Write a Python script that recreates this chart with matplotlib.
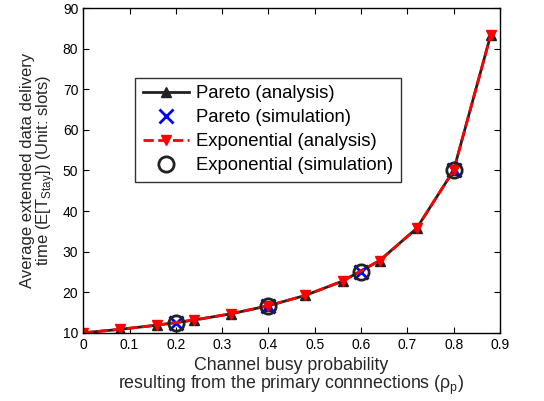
import numpy as np
import matplotlib
matplotlib.use('Agg')
import matplotlib.pyplot as plt

plt.rcParams['font.family'] = ['Liberation Sans', 'DejaVu Sans']
plt.rcParams['mathtext.fontset'] = 'custom'
plt.rcParams['mathtext.rm'] = 'Liberation Sans'

# analysis points
rho = [0, 0.08, 0.16, 0.24, 0.32, 0.40, 0.48, 0.56, 0.64, 0.72, 0.80, 0.88]
pareto_ana = [10.0, 10.87, 11.90, 13.16, 14.71, 16.67, 19.23, 22.73, 27.78, 35.71, 50.0, 83.33]
expo_ana = [10.0, 10.87, 11.90, 13.16, 14.71, 16.67, 19.23, 22.73, 27.78, 35.71, 50.0, 83.33]
# simulation points
rho_sim = [0.2, 0.4, 0.6, 0.8]
pareto_sim = [12.5, 16.6, 25.0, 50.0]
expo_sim = [12.5, 16.7, 25.1, 50.1]

fig = plt.figure(figsize=(5.44, 4.01), dpi=100)
ax = fig.add_axes([0.153, 0.170, 0.766, 0.810])

ax.plot(rho, pareto_ana, '-^', color='#222222', lw=2, ms=7.5, label='Pareto (analysis)')
ax.plot(rho_sim, pareto_sim, 'x', color='blue', ms=10, mew=2, label='Pareto (simulation)')
ax.plot(rho, expo_ana, '--v', color='red', lw=2, ms=7.5, label='Exponential (analysis)')
ax.plot(rho_sim, expo_sim, 'o', color='#222222', mfc='none', ms=11, mew=2, label='Exponential (simulation)')

ax.set_xlim(0, 0.9)
ax.set_ylim(10, 90)
ax.set_xticks(np.arange(0, 0.91, 0.1))
ax.set_xticklabels(['0', '0.1', '0.2', '0.3', '0.4', '0.5', '0.6', '0.7', '0.8', '0.9'])
ax.set_yticks(np.arange(10, 91, 10))
ax.tick_params(direction='in', top=True, right=True, labelsize=10, length=4)
for s in ax.spines.values():
    s.set_linewidth(1.0)

ax.set_xlabel('Channel busy probability\nresulting from the primary connnections (\u03c1$_{\\mathrm{p}}$)',
              fontsize=12.8, color='#262626', linespacing=0.95, labelpad=4)
ax.set_ylabel('Average extended data delivery\ntime (E[T$_{\\mathrm{Stay}}$]) (Unit: slots)',
              fontsize=12, color='#262626', linespacing=0.95, labelpad=4)

leg = ax.legend(loc='upper left', bbox_to_anchor=(0.125, 0.785), fontsize=13.3,
                frameon=True, fancybox=False, edgecolor='black', borderpad=0.4,
                labelspacing=0.38, handlelength=2.5, handletextpad=0.4, borderaxespad=0)
leg.get_frame().set_linewidth(1.0)

plt.savefig('out.png', dpi=100)
